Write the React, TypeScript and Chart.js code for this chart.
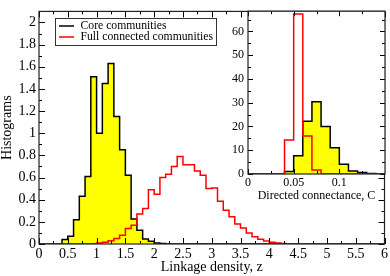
import React, { useEffect, useRef } from 'react';
import { Chart, registerables } from 'chart.js';

Chart.register(...registerables);

const FONT = "'Liberation Serif', 'Times New Roman', serif";

// ---- Main histogram: linkage density z, bins of width 0.1 (left edges) ----
const zBinStarts = [
  0.0, 0.1, 0.2, 0.3, 0.4, 0.5, 0.6, 0.7, 0.8, 0.9,
  1.0, 1.1, 1.2, 1.3, 1.4, 1.5, 1.6, 1.7, 1.8, 1.9,
  2.0, 2.1, 2.2, 2.3, 2.4, 2.5, 2.6, 2.7, 2.8, 2.9,
  3.0, 3.1, 3.2, 3.3, 3.4, 3.5, 3.6, 3.7, 3.8, 3.9,
  4.0, 4.1, 4.2, 4.3, 4.4, 4.5, 4.6, 4.7, 4.8, 4.9,
  5.0, 5.1, 5.2, 5.3, 5.4, 5.5, 5.6, 5.7, 5.8, 5.9,
];
const zEnd = 6;
const coreDensity = [
  0, 0, 0, 0, 0.04, 0.07, 0.22, 0.43, 0.61, 1.51,
  1.0, 1.45, 1.63, 1.15, 0.85, 0.62, 0.225, 0.125, 0.045, 0.025,
  0.01, 0.005, 0, 0, 0, 0, 0, 0, 0, 0,
  0, 0, 0, 0, 0, 0, 0, 0, 0, 0,
  0, 0, 0, 0, 0, 0, 0, 0, 0, 0,
  0, 0, 0, 0, 0, 0, 0, 0, 0, 0,
];
const fullDensity = [
  0, 0, 0, 0, 0, 0, 0, 0, 0, 0.003,
  0.008, 0.015, 0.03, 0.05, 0.08, 0.14, 0.17, 0.27, 0.32, 0.49,
  0.45, 0.6, 0.63, 0.7, 0.79, 0.715, 0.715, 0.66, 0.62, 0.5,
  0.505, 0.385, 0.305, 0.245, 0.18, 0.145, 0.1, 0.066, 0.043, 0.028,
  0.015, 0.008, 0.004, 0.002, 0.001, 0, 0, 0, 0, 0,
  0, 0, 0, 0, 0, 0, 0, 0, 0, 0,
];

// ---- Inset: directed connectance C, bins of width 0.01 (left edges) ----
const cBinStarts = [0.0, 0.01, 0.02, 0.03, 0.04, 0.05, 0.06, 0.07, 0.08, 0.09, 0.1, 0.11, 0.12, 0.13, 0.14];
const cEnd = 0.15;
const coreConnect = [0, 0, 0, 0, 1.0, 7.7, 22.2, 30.4, 20.0, 11.0, 4.1, 1.3, 0.6, 0.2, 0];
const fullConnect = [0, 0, 0, 0, 14.3, 67.3, 16.0, 1.7, 0, 0, 0, 0, 0, 0, 0];

const seriesNames = ['Core communities', 'Full connected communities'];

// ---- Ticks ----
const mainXTicks = [0, 0.5, 1, 1.5, 2, 2.5, 3, 3.5, 4, 4.5, 5, 5.5, 6];
const mainXLabels = ['0', '0.5', '1', '1.5', '2', '2.5', '3', '3.5', '4', '4.5', '5', '5.5', '6'];
const mainXMinor = [0.25, 0.75, 1.25, 1.75, 2.25, 2.75, 3.25, 3.75, 4.25, 4.75, 5.25, 5.75];
const mainYTicks = [0, 0.2, 0.4, 0.6, 0.8, 1, 1.2, 1.4, 1.6, 1.8, 2];
const mainYLabels = ['0', '0.2', '0.4', '0.6', '0.8', '1', '1.2', '1.4', '1.6', '1.8', '2'];
const mainYMinor = [0.1, 0.3, 0.5, 0.7, 0.9, 1.1, 1.3, 1.5, 1.7, 1.9];

const insetXTicks = [0, 0.05, 0.1];
const insetXLabels = ['0', '0.05', '0.1'];
const insetXMinor = [0.025, 0.075, 0.125];
const insetYTicks = [0, 10, 20, 30, 40, 50, 60];
const insetYLabels = ['0', '10', '20', '30', '40', '50', '60'];
const insetYMinor = [5, 15, 25, 35, 45, 55, 65];

const steps = (starts: number[], vals: number[], end: number) =>
  starts.map((s, i) => ({ x: s, y: vals[i] })).concat([{ x: end, y: vals[vals.length - 1] }]);

type TickCfg = { xMajor: number[]; xMinor: number[]; yMajor: number[]; yMinor: number[]; major: number; minor: number };

const frameTicks = (id: string, cfg: TickCfg) => ({
  id,
  afterDatasetsDraw(chart: any) {
    const { ctx, chartArea: a, scales } = chart;
    const xs = scales.x;
    const ys = scales.y;
    ctx.save();
    ctx.strokeStyle = '#000';
    ctx.lineWidth = 1;
    ctx.beginPath();
    const xt = (vals: number[], len: number) => {
      for (const v of vals) {
        const p = Math.round(xs.getPixelForValue(v)) + 0.5;
        ctx.moveTo(p, a.bottom);
        ctx.lineTo(p, a.bottom - len);
        ctx.moveTo(p, a.top);
        ctx.lineTo(p, a.top + len);
      }
    };
    const yt = (vals: number[], len: number) => {
      for (const v of vals) {
        const p = Math.round(ys.getPixelForValue(v)) + 0.5;
        ctx.moveTo(a.left, p);
        ctx.lineTo(a.left + len, p);
        ctx.moveTo(a.right, p);
        ctx.lineTo(a.right - len, p);
      }
    };
    xt(cfg.xMajor, cfg.major);
    xt(cfg.xMinor, cfg.minor);
    yt(cfg.yMajor, cfg.major);
    yt(cfg.yMinor, cfg.minor);
    ctx.stroke();
    ctx.lineWidth = 1.2;
    ctx.strokeStyle = '#222';
    ctx.strokeRect(a.left, a.top, a.right - a.left, a.bottom - a.top);
    ctx.restore();
  },
});

const whiteArea = {
  id: 'whiteArea',
  beforeDraw(chart: any) {
    const { ctx, chartArea: a } = chart;
    ctx.save();
    ctx.fillStyle = '#fff';
    ctx.fillRect(a.left, a.top, a.right - a.left, a.bottom - a.top);
    ctx.restore();
  },
};

const legendBox = {
  id: 'legendBox',
  afterDraw(chart: any) {
    const { ctx } = chart;
    const ds = chart.data.datasets;
    ctx.save();
    ctx.fillStyle = '#fff';
    ctx.fillRect(55.5, 18.5, 161, 27);
    ctx.strokeStyle = '#333';
    ctx.lineWidth = 1;
    ctx.strokeRect(55.5, 18.5, 161, 27);
    const rows = [ds[1], ds[0]];
    rows.forEach((d: any, i: number) => {
      const y = 26 + i * 11;
      ctx.strokeStyle = d.borderColor;
      ctx.lineWidth = 1.5;
      ctx.beginPath();
      ctx.moveTo(59, y);
      ctx.lineTo(74, y);
      ctx.stroke();
      ctx.fillStyle = '#000';
      ctx.font = `11.7px ${FONT}`;
      ctx.textBaseline = 'middle';
      ctx.textAlign = 'left';
      ctx.fillText(d.label, 80.5, y);
    });
    ctx.restore();
  },
};

const axisFont = (size: number) => ({ family: FONT, size });

export default function App() {
  const mainRef = useRef<HTMLCanvasElement>(null);
  const insetRef = useRef<HTMLCanvasElement>(null);

  useEffect(() => {
    const main = new Chart(mainRef.current as HTMLCanvasElement, {
      type: 'line',
      data: {
        datasets: [
          {
            label: seriesNames[1],
            data: steps(zBinStarts, fullDensity, zEnd),
            stepped: 'before',
            borderColor: '#ff0000',
            borderWidth: 1.5,
            fill: false,
            pointRadius: 0,
            order: 0,
          },
          {
            label: seriesNames[0],
            data: steps(zBinStarts, coreDensity, zEnd),
            stepped: 'before',
            borderColor: '#000000',
            backgroundColor: '#ffff00',
            borderWidth: 1.5,
            fill: 'origin',
            pointRadius: 0,
            order: 1,
          },
        ],
      } as any,
      options: {
        responsive: false,
        animation: false,
        devicePixelRatio: 1,
        layout: { padding: { left: 0, right: 5, top: 2, bottom: 0 } },
        plugins: { legend: { display: false }, tooltip: { enabled: false } },
        scales: {
          x: {
            type: 'linear',
            min: 0,
            max: 6,
            grid: { display: false, drawTicks: false },
            border: { display: false },
            afterBuildTicks: (s: any) => {
              s.ticks = mainXTicks.map((v) => ({ value: v }));
            },
            afterFit: (s: any) => {
              s.height = 32;
            },
            ticks: {
              autoSkip: false,
              maxRotation: 0,
              padding: 2,
              color: '#000',
              font: axisFont(14),
              callback: (_v: any, i: number) => mainXLabels[i],
            },
            title: {
              display: true,
              text: 'Linkage density, z',
              color: '#000',
              font: axisFont(14),
              padding: { top: 0, bottom: 0 },
            },
          },
          y: {
            type: 'linear',
            min: 0,
            max: 2.1,
            grid: { display: false, drawTicks: false },
            border: { display: false },
            afterBuildTicks: (s: any) => {
              s.ticks = mainYTicks.map((v) => ({ value: v }));
            },
            afterFit: (s: any) => {
              s.width = 39;
            },
            ticks: {
              autoSkip: false,
              padding: 3,
              color: '#000',
              font: axisFont(14),
              callback: (_v: any, i: number) => mainYLabels[i],
            },
            title: {
              display: true,
              text: 'Histograms',
              color: '#000',
              font: axisFont(14),
              padding: { top: -1, bottom: 0 },
            },
          },
        },
      } as any,
      plugins: [
        frameTicks('mainFrame', {
          xMajor: mainXTicks,
          xMinor: mainXMinor,
          yMajor: mainYTicks,
          yMinor: mainYMinor,
          major: 6,
          minor: 3,
        }),
        legendBox,
      ],
    });

    const inset = new Chart(insetRef.current as HTMLCanvasElement, {
      type: 'line',
      data: {
        datasets: [
          {
            label: seriesNames[1],
            data: steps(cBinStarts, fullConnect, cEnd),
            stepped: 'before',
            borderColor: '#ff0000',
            borderWidth: 1.5,
            fill: false,
            pointRadius: 0,
            order: 0,
          },
          {
            label: seriesNames[0],
            data: steps(cBinStarts, coreConnect, cEnd),
            stepped: 'before',
            borderColor: '#000000',
            backgroundColor: '#ffff00',
            borderWidth: 1.5,
            fill: 'origin',
            pointRadius: 0,
            order: 1,
          },
        ],
      } as any,
      options: {
        responsive: false,
        animation: false,
        devicePixelRatio: 1,
        layout: { padding: { left: 0, right: 5, top: 2, bottom: 0 } },
        plugins: { legend: { display: false }, tooltip: { enabled: false } },
        scales: {
          x: {
            type: 'linear',
            min: 0,
            max: 0.15,
            grid: { display: false, drawTicks: false },
            border: { display: false },
            afterBuildTicks: (s: any) => {
              s.ticks = insetXTicks.map((v) => ({ value: v }));
            },
            afterFit: (s: any) => {
              s.height = 31;
            },
            ticks: {
              autoSkip: false,
              maxRotation: 0,
              padding: 2,
              color: '#000',
              font: axisFont(12),
              callback: (_v: any, i: number) => insetXLabels[i],
            },
            title: {
              display: true,
              text: 'Directed connectance, C',
              color: '#000',
              font: axisFont(12),
              padding: { top: 0, bottom: 2 },
            },
          },
          y: {
            type: 'linear',
            min: 0,
            max: 68.5,
            grid: { display: false, drawTicks: false },
            border: { display: false },
            afterBuildTicks: (s: any) => {
              s.ticks = insetYTicks.map((v) => ({ value: v }));
            },
            afterFit: (s: any) => {
              s.width = 48;
            },
            ticks: {
              autoSkip: false,
              padding: 4,
              color: '#000',
              font: axisFont(12),
              callback: (_v: any, i: number) => insetYLabels[i],
            },
          },
        },
      } as any,
      plugins: [
        whiteArea,
        frameTicks('insetFrame', {
          xMajor: insetXTicks,
          xMinor: insetXMinor,
          yMajor: insetYTicks,
          yMinor: insetYMinor,
          major: 5,
          minor: 3,
        }),
      ],
    });

    return () => {
      main.destroy();
      inset.destroy();
    };
  }, []);

  return (
    <div style={{ position: 'fixed', left: 0, top: 0, width: 390, height: 276, background: '#fff' }}>
      <canvas ref={mainRef} width={390} height={276} style={{ position: 'absolute', left: 0, top: 0, display: 'block' }} />
      <canvas ref={insetRef} width={190} height={205} style={{ position: 'absolute', left: 200, top: 0, display: 'block' }} />
    </div>
  );
}
